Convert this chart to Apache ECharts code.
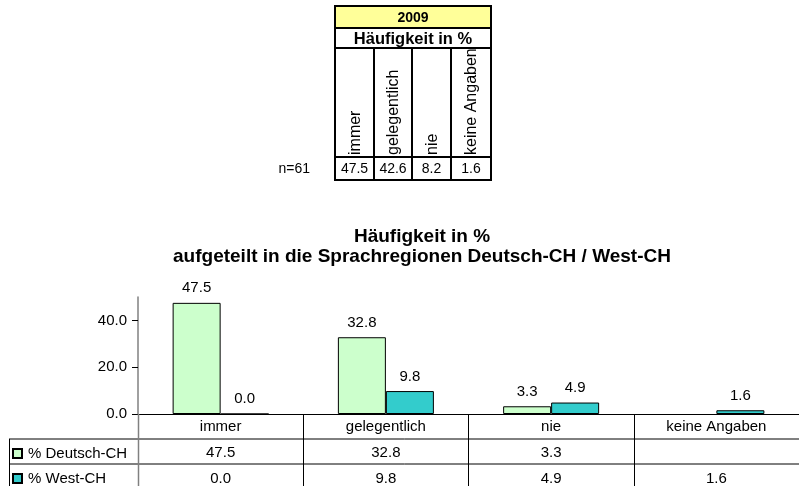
<!DOCTYPE html>
<html>
<head>
<meta charset="utf-8">
<script src="https://cdn.jsdelivr.net/npm/echarts@6/dist/echarts.min.js"></script>
<style>
  html, body { margin: 0; padding: 0; background: #fff; }
  #chart { width: 799px; height: 486px; }
</style>
</head>
<body>
<div id="chart"></div>
<script>
// Daten
var categories = ["immer", "gelegentlich", "nie", "keine Angaben"];
var deutschCH = [47.5, 32.8, 3.3, null];
var westCH = [0.0, 9.8, 4.9, 1.6];
var yTicks = [0, 20, 40];
// Übersichtstabelle 2009
var overviewYear = "2009";
var overviewTitle = "Häufigkeit in %";
var overviewValues = [47.5, 42.6, 8.2, 1.6];
var overviewN = "n=61";

var FONT = 'Arial, "Liberation Sans", sans-serif';
var GREEN = "#CCFFCC";
var TEAL = "#33CCCC";

function fmt(v) {
  return v == null ? "" : Number(v).toFixed(1);
}

// obere Tabelle als graphic-Elemente
var tLeft = 335, tRight = 491, tTop = 6;
var rowY = [6, 28, 48, 157, 180];
var colX = [335, 374, 412, 451, 491];
var g = [];
g.push({ type: "rect", shape: { x: tLeft, y: rowY[0], width: tRight - tLeft, height: rowY[1] - rowY[0] }, style: { fill: "#FFFF99" } });
g.push({ type: "text", x: (tLeft + tRight) / 2, y: (rowY[0] + rowY[1]) / 2 + 1,
  style: { text: overviewYear, font: "bold 14px " + FONT, fill: "#000", align: "center", verticalAlign: "middle" } });
g.push({ type: "text", x: (tLeft + tRight) / 2, y: (rowY[1] + rowY[2]) / 2 + 1,
  style: { text: overviewTitle, font: "bold 16.5px " + FONT, fill: "#000", align: "center", verticalAlign: "middle" } });
categories.forEach(function (c, i) {
  var cx = (colX[i] + colX[i + 1]) / 2;
  g.push({ type: "text", x: cx + 1, y: rowY[3] - 2, rotation: Math.PI / 2,
    style: { text: c, font: "16px " + FONT, fill: "#000", align: "left", verticalAlign: "middle" } });
  g.push({ type: "text", x: cx, y: (rowY[3] + rowY[4]) / 2 + 1,
    style: { text: fmt(overviewValues[i]), font: "14px " + FONT, fill: "#000", align: "center", verticalAlign: "middle" } });
});
// Linien der oberen Tabelle
var lw = 2;
[1, 2, 3].forEach(function (r) {
  g.push({ type: "line", shape: { x1: tLeft, y1: rowY[r], x2: tRight, y2: rowY[r] }, style: { stroke: "#000", lineWidth: lw } });
});
[1, 2, 3].forEach(function (c) {
  g.push({ type: "line", shape: { x1: colX[c], y1: rowY[2], x2: colX[c], y2: rowY[4] }, style: { stroke: "#000", lineWidth: lw } });
});
// weisser Streifen oberhalb der Tabelle, damit der gedrehte Text abgeschnitten wird
g.push({ type: "rect", shape: { x: tLeft - 2, y: 0, width: tRight - tLeft + 4, height: tTop }, style: { fill: "#fff" } });
g.push({ type: "rect", shape: { x: tLeft, y: tTop, width: tRight - tLeft, height: rowY[4] - tTop },
  style: { fill: null, stroke: "#000", lineWidth: lw } });
g.push({ type: "text", x: 310, y: (rowY[3] + rowY[4]) / 2 + 1,
  style: { text: overviewN, font: "14px " + FONT, fill: "#000", align: "right", verticalAlign: "middle" } });

// Diagrammtitel
g.push({ type: "text", x: 422, y: 237,
  style: { text: "Häufigkeit in %", font: "bold 19px " + FONT, fill: "#000", align: "center", verticalAlign: "middle" } });
g.push({ type: "text", x: 422, y: 257,
  style: { text: "aufgeteilt in die Sprachregionen Deutsch-CH / West-CH", font: "bold 19px " + FONT, fill: "#000", align: "center", verticalAlign: "middle" } });

// Datentabelle unter dem Diagramm
g.push({ type: "line", shape: { x1: 9, y1: 439, x2: 807, y2: 439 }, style: { stroke: "#000", lineWidth: 1 } });
g.push({ type: "line", shape: { x1: 9, y1: 464, x2: 807, y2: 464 }, style: { stroke: "#000", lineWidth: 1 } });
g.push({ type: "line", shape: { x1: 9.5, y1: 439, x2: 9.5, y2: 486 }, style: { stroke: "#000", lineWidth: 1 } });
g.push({ type: "line", shape: { x1: 138.5, y1: 414, x2: 138.5, y2: 486 }, style: { stroke: "#808080", lineWidth: 1.5 }, z: 10 });

var chart = echarts.init(document.getElementById("chart"), null, { renderer: "canvas" });
chart.setOption({
  animation: false,
  textStyle: { fontFamily: FONT },
  grid: { left: 138, top: 297, width: 669, height: 117, containLabel: false },
  legend: [
    { data: ["% Deutsch-CH"], left: 12, top: 446, padding: 0, icon: "rect", itemWidth: 9, itemHeight: 9, itemGap: 0,
      textStyle: { fontSize: 15, color: "#000", padding: [0, 0, 0, 1] }, selectedMode: false },
    { data: ["% West-CH"], left: 12, top: 471, padding: 0, icon: "rect", itemWidth: 9, itemHeight: 9, itemGap: 0,
      textStyle: { fontSize: 15, color: "#000", padding: [0, 0, 0, 1] }, selectedMode: false }
  ],
  xAxis: [
    {
      type: "category", data: categories,
      axisLine: { lineStyle: { color: "#000", width: 1 } },
      axisTick: { show: true, length: 72, interval: 0, lineStyle: { color: "#000" } },
      axisLabel: { fontSize: 15, color: "#000", margin: 5, interval: 0 }
    },
    {
      type: "category", data: deutschCH.map(fmt), position: "bottom", offset: 25,
      axisLine: { show: false }, axisTick: { show: false },
      axisLabel: { fontSize: 15, color: "#000", margin: 6, interval: 0 }
    },
    {
      type: "category", data: westCH.map(fmt), position: "bottom", offset: 50,
      axisLine: { show: false }, axisTick: { show: false },
      axisLabel: { fontSize: 15, color: "#000", margin: 7, interval: 0 }
    }
  ],
  yAxis: {
    type: "value", min: 0, max: 50,
    splitLine: { show: false },
    axisLine: { show: true, lineStyle: { color: "#808080", width: 1.5 } },
    axisTick: { show: true, length: 6, customValues: yTicks, lineStyle: { color: "#000" } },
    axisLabel: { fontSize: 15, color: "#000", margin: 11, customValues: yTicks,
      formatter: function (v) { return v.toFixed(1); } }
  },
  series: [
    {
      name: "% Deutsch-CH", type: "bar", data: deutschCH, barWidth: 48, barGap: "0%",
      itemStyle: { color: GREEN, borderColor: "#000", borderWidth: 1 },
      label: { show: true, position: "top", distance: 7, fontSize: 15, color: "#000",
        formatter: function (p) { return fmt(p.value); } }
    },
    {
      name: "% West-CH", type: "bar", data: westCH, barWidth: 48, barGap: "0%",
      itemStyle: { color: TEAL, borderColor: "#000", borderWidth: 1 },
      label: { show: true, position: "top", distance: 7, fontSize: 15, color: "#000",
        formatter: function (p) { return fmt(p.value); } }
    }
  ],
  graphic: g
});
</script>
</body>
</html>
